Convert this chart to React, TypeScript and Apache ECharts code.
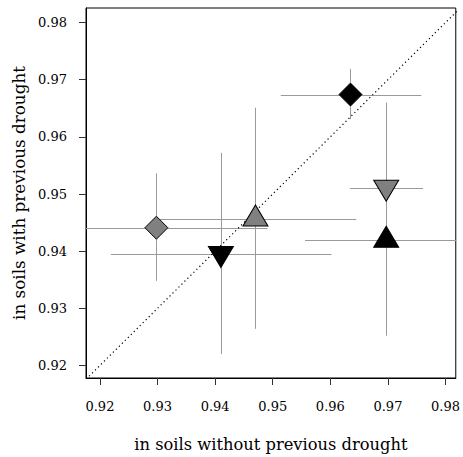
import React, { useEffect, useRef } from "react";
import * as echarts from "echarts";

// Tick labels
const xTicks = [0.92, 0.93, 0.94, 0.95, 0.96, 0.97, 0.98];
const yTicks = [0.92, 0.93, 0.94, 0.95, 0.96, 0.97, 0.98];

// Point estimates (x: without previous drought, y: with previous drought)
const xValues = [0.9298, 0.941, 0.947, 0.9635, 0.9697, 0.9697];
const yValues = [0.9441, 0.9395, 0.9457, 0.9674, 0.9511, 0.942];
// Error bar bounds
const xLow = [0.915, 0.9219, 0.9304, 0.9514, 0.9634, 0.9556];
const xHigh = [0.9491, 0.9602, 0.9645, 0.9758, 0.9761, 0.99];
const yLow = [0.9348, 0.922, 0.9264, 0.9631, 0.936, 0.9252];
const yHigh = [0.9536, 0.9572, 0.9651, 0.9719, 0.966, 0.959];
// Categorical marker kind and tone per point
const kinds = ["diamond", "down", "up", "diamond", "down", "up"];
const tones = ["grey", "black", "grey", "black", "grey", "black"];

const diag = [0.9, 1.0];

const FONT = "DejaVu Serif";

export default function App() {
  const ref = useRef<HTMLDivElement>(null);
  useEffect(() => {
    if (!ref.current) return;
    const chart = echarts.init(ref.current, null, { renderer: "svg" });

    const barData = xValues.map((x, i) => [x, yValues[i], xLow[i], xHigh[i], yLow[i], yHigh[i]]);

    const pointData = xValues.map((x, i) => {
      const k = kinds[i];
      const fill = tones[i] === "grey" ? "#808080" : "#000000";
      let symbol = "diamond";
      let size: number[] = [23, 23];
      let offset: number[] = [0, 0];
      if (k === "up") {
        symbol = "triangle";
        size = [25, 21];
        offset = [0, -3];
      } else if (k === "down") {
        symbol = "path://M0,0L2,0L1,2Z";
        size = [25, 21];
        offset = [0, 3];
      }
      return {
        value: [x, yValues[i]],
        symbol,
        symbolSize: size,
        symbolOffset: offset,
        itemStyle: { color: fill, borderColor: "#000", borderWidth: 1, opacity: 1 },
      };
    });

    const crisp = (v: number) => Math.round(v) + 0.5;

    const option: any = {
      animation: false,
      backgroundColor: "#fff",
      textStyle: { fontFamily: FONT },
      grid: {
        left: 86,
        top: 8,
        width: 371,
        height: 373,
        show: true,
        borderColor: "#000",
        borderWidth: 1,
        backgroundColor: "transparent",
      },
      xAxis: {
        type: "value",
        min: 0.91758,
        max: 0.98178,
        name: "in soils without previous drought",
        nameLocation: "middle",
        nameGap: 58,
        nameTextStyle: { fontFamily: FONT, fontSize: 16.3, color: "#000" },
        axisLine: { show: true, lineStyle: { color: "#000", width: 1 } },
        axisTick: {
          show: true,
          length: 7,
          customValues: xTicks,
          lineStyle: { color: "#333", width: 1 },
        },
        axisLabel: {
          customValues: xTicks,
          margin: 22,
          fontFamily: FONT,
          fontSize: 13,
          color: "#000",
          formatter: (v: number) => v.toFixed(2),
        },
        splitLine: { show: false },
      },
      yAxis: {
        type: "value",
        min: 0.9178,
        max: 0.98255,
        name: "in soils with previous drought",
        nameLocation: "middle",
        nameGap: 55,
        nameTextStyle: { fontFamily: FONT, fontSize: 16.8, color: "#000" },
        axisLine: { show: true, lineStyle: { color: "#000", width: 1 } },
        axisTick: {
          show: true,
          length: 7,
          customValues: yTicks,
          lineStyle: { color: "#333", width: 1 },
        },
        axisLabel: {
          customValues: yTicks,
          margin: 19,
          fontFamily: FONT,
          fontSize: 13,
          color: "#000",
          formatter: (v: number) => v.toFixed(2),
        },
        splitLine: { show: false },
      },
      series: [
        {
          type: "custom",
          clip: true,
          silent: true,
          data: barData,
          renderItem: (params: any, api: any) => {
            const x = api.value(0);
            const y = api.value(1);
            const a = api.coord([api.value(2), y]);
            const b = api.coord([api.value(3), y]);
            const c = api.coord([x, api.value(4)]);
            const d = api.coord([x, api.value(5)]);
            const st = { stroke: "#9a9a9a", lineWidth: 1 };
            return {
              type: "group",
              children: [
                { type: "line", shape: { x1: a[0], y1: crisp(a[1]), x2: b[0], y2: crisp(b[1]) }, style: st },
                { type: "line", shape: { x1: crisp(c[0]), y1: c[1], x2: crisp(d[0]), y2: d[1] }, style: st },
              ],
            };
          },
          z: 1,
        },
        {
          type: "line",
          data: [
            [diag[0], diag[0]],
            [diag[1], diag[1]],
          ],
          symbol: "none",
          clip: true,
          silent: true,
          lineStyle: { color: "#000", width: 1.2, type: [1.2, 3] },
          z: 2,
        },
        {
          type: "scatter",
          data: pointData,
          clip: false,
          z: 3,
        },
      ],
    };
    chart.setOption(option);
    return () => chart.dispose();
  }, []);
  return (
    <div
      ref={ref}
      style={{ position: "fixed", left: 0, top: 0, width: 463, height: 457 }}
    />
  );
}
